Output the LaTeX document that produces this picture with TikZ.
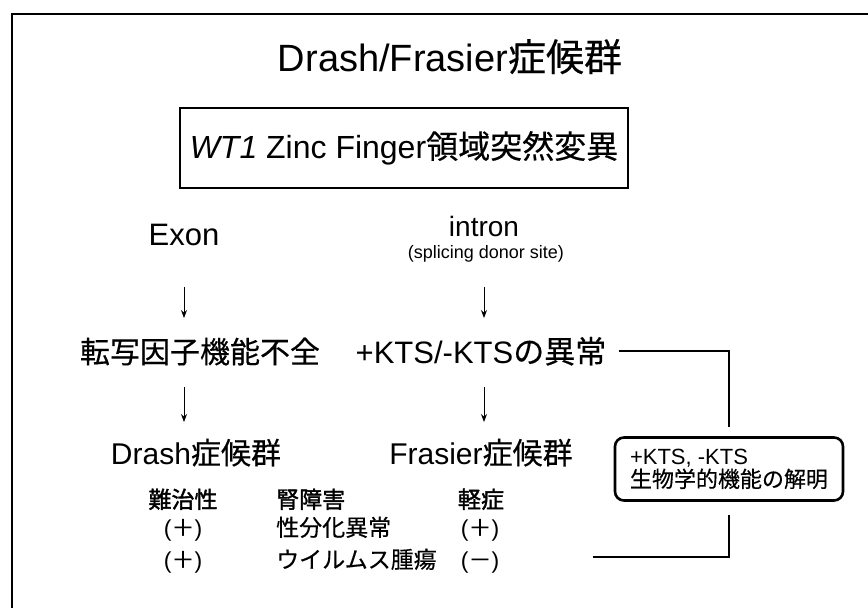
\documentclass[tikz,border=0pt]{standalone}
\usepackage{fontspec}
\setmainfont{Liberation Sans}
\newfontfamily\jp[FakeBold=0.4]{Noto Sans CJK JP}
\newfontfamily\jpb[FakeBold=1.6]{Noto Sans CJK JP}
\newcommand\J[1]{{\jp #1}}
\newcommand\JB[1]{{\jpb #1}}
\usetikzlibrary{arrows.meta}
\begin{document}
\begin{tikzpicture}[x=1pt,y=-1pt,
  txt/.style={inner sep=0pt, anchor=base},
  txtw/.style={inner sep=0pt, anchor=base west},
  arr/.style={-{Stealth[length=8pt,width=6pt]}, line width=0.9pt},
  conn/.style={line width=2.4pt},
  frame/.style={line width=1.3pt},
  big/.style={font=\fontsize{30}{34}\selectfont},
  small/.style={font=\fontsize{23}{26}\selectfont}]
\useasboundingbox (0,0) rectangle (868,608);
\fill[white] (0,0) rectangle (868,608);
\draw[frame] (12,608) -- (12,14) -- (868,14);

\node[txt, font=\fontsize{38}{42}\selectfont] (title) at (450,71) {Drash/Frasier\J{症候群}};
\node[draw, line width=2.4pt, minimum width=448pt, minimum height=80pt, inner sep=0pt,
      font=\fontsize{32}{36}\selectfont] (mut) at (404,148) {\textit{WT1} Zinc Finger\J{領域突然変異}};

\node[txt, font=\fontsize{31}{34}\selectfont] (exon) at (184,245) {Exon};
\node[txt, font=\fontsize{28}{32}\selectfont] (intron) at (484,236) {intron};
\node[txt, font=\fontsize{18}{22}\selectfont] (splice) at (486,258) {(splicing donor site)};

\node[txt, big] (tensha) at (200,363) {\J{転写因子機能不全}};
\node[txt, font=\fontsize{31}{34}\selectfont] (kts) at (481,363) {+KTS/-KTS\J{の異常}};

\node[txt, big] (drash) at (196,464) {Drash\J{症候群}};
\node[txt, big] (fras) at (481,464) {Frasier\J{症候群}};

\node[txt, small] (nan) at (183,508) {\JB{難治性}};
\node[txtw, small] (jin) at (276,508) {\JB{腎障害}};
\node[txt, small] (kei) at (481,508) {\JB{軽症}};
\node[txt, small] (p1) at (183,536) {(\J{＋})};
\node[txtw, small] (sei) at (276,536) {\J{性分化異常}};
\node[txt, small] (p2) at (480,536) {(\J{＋})};
\node[txt, small] (p3) at (183,568) {(\J{＋})};
\node[txtw, small] (wil) at (276,568) {\J{ウイルムス腫瘍}};
\node[txt, small] (m1) at (480,568) {(\J{－})};

\node[draw, rounded corners=9pt, line width=2.6pt, minimum width=228pt, minimum height=63pt,
      align=left, inner xsep=12pt, inner ysep=4pt, font=\fontsize{22}{23}\selectfont] (rbox) at (729,469)
      {+KTS, -KTS\\\J{生物学的機能の解明}};

\draw[arr, shorten <=42pt, shorten >=45pt] (exon.base) -- (exon.base |- tensha.base);
\draw[arr, shorten <=29pt, shorten >=45pt] (intron.base |- splice.base) -- (intron.base |- kts.base);
\draw[arr, shorten <=24pt, shorten >=42pt] (exon.base |- tensha.base) -- (exon.base |- drash.base);
\draw[arr, shorten <=24pt, shorten >=42pt] (intron.base |- kts.base) -- (intron.base |- fras.base);

\coordinate (ktsend) at ([shift={(12pt,12pt)}]kts.base east);
\draw[conn, shorten >=9pt] (ktsend) -| (rbox.north);
\coordinate (lowend) at (593,557);
\draw[conn, shorten <=13pt] (rbox.south) |- (lowend);
\end{tikzpicture}
\end{document}
